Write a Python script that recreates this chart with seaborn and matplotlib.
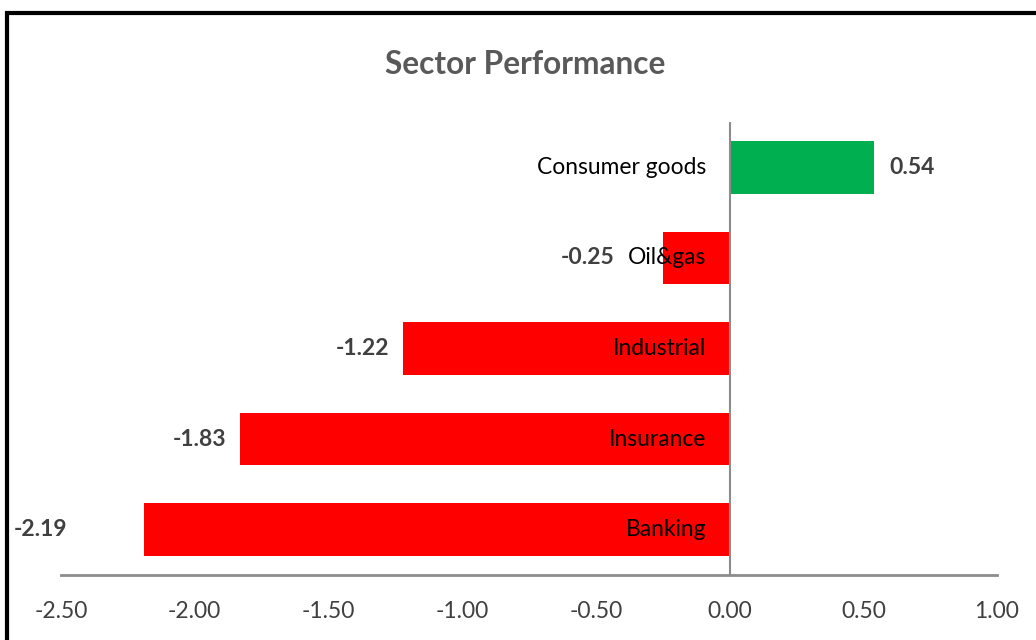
import matplotlib
matplotlib.use("Agg")
import matplotlib.pyplot as plt
import seaborn as sns
import pandas as pd
from matplotlib.patches import Rectangle

# Sector returns (%)
sectors = ["Consumer goods", "Oil&gas", "Industrial", "Insurance", "Banking"]
changes = [0.54, -0.25, -1.22, -1.83, -2.19]
tick_values = [-2.5, -2.0, -1.5, -1.0, -0.5, 0.0, 0.5, 1.0]
tick_labels = ["-2.50", "-2.00", "-1.50", "-1.00", "-0.50", "0.00", "0.50", "1.00"]
value_labels = ["0.54", "-0.25", "-1.22", "-1.83", "-2.19"]

sns.set_theme(style="white")
plt.rcParams["font.family"] = ["Lato", "DejaVu Sans"]

df = pd.DataFrame({"sector": sectors, "change": changes})
df["direction"] = ["up" if v >= 0 else "down" for v in changes]
palette = {"up": "#00B050", "down": "#FF0000"}

fig = plt.figure(figsize=(10.36, 6.4), dpi=100)
ax = fig.add_axes([0.0589, 0.1016, 0.9035, 0.7078])

sns.barplot(data=df, x="change", y="sector", hue="direction", palette=palette,
            order=sectors, dodge=False, legend=False, width=0.58,
            saturation=1, edgecolor="none", ax=ax)

ax.set_xlim(-2.5, 1.0)
ax.set_ylim(4.5, -0.5)
ax.set_xticks(tick_values)
ax.set_xticklabels(tick_labels, fontsize=16.5, color="#404040")
ax.tick_params(axis="x", length=0, pad=19)
ax.set_yticks([])
ax.set_xlabel("")
ax.set_ylabel("")
for side in ["top", "right", "left"]:
    ax.spines[side].set_visible(False)
ax.spines["bottom"].set_color("#8C8C8C")
ax.spines["bottom"].set_linewidth(2)
ax.axvline(0, color="#8C8C8C", linewidth=1.5, zorder=3)

# Category names sit just left of the zero line
for i, name in enumerate(sectors):
    ax.annotate(name, xy=(0, i), xytext=(-17, 0), textcoords="offset points",
                ha="right", va="center", fontsize=16.4, color="#000000", zorder=4)

# Value labels at the bar ends
label_offsets = [11, -35, -10, -10, -55]
for i, (v, txt) in enumerate(zip(changes, value_labels)):
    ax.annotate(txt, xy=(v, i), xytext=(label_offsets[i], 0), textcoords="offset points",
                ha="left" if v >= 0 else "right", va="center",
                fontsize=16.5, fontweight="bold", color="#404040",
                annotation_clip=False, zorder=4)

fig.text(0.507, 0.900, "Sector Performance", ha="center", va="center",
         fontsize=22.8, fontweight="bold", color="#595959")

# Chart frame
fig.patches.append(Rectangle((7 / 1036, -0.05), 1.1, 1 - 13 / 640 + 0.05,
                             transform=fig.transFigure, fill=False,
                             edgecolor="#000000", linewidth=3, zorder=10))

fig.savefig("out.png", dpi=100, facecolor="white")
